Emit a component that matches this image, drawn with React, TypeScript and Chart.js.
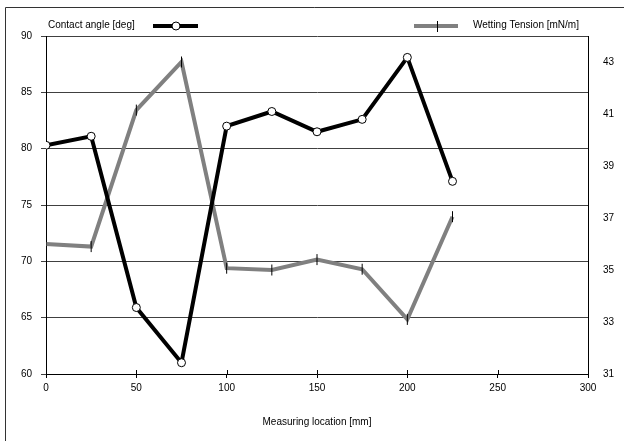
import React, { useEffect, useRef } from "react";
import { Chart, registerables } from "chart.js";

Chart.register(...registerables);

const locations = [0, 25, 50, 75, 100, 125, 150, 175, 200, 225];
const contactAngle = [80.3, 81.1, 65.9, 61.0, 82.0, 83.3, 81.5, 82.6, 88.1, 77.1];
const wettingTension = [36.0, 35.9, 41.15, 43.0, 35.07, 35.0, 35.4, 35.03, 33.1, 37.05];
const rightTicks = [31, 33, 35, 37, 39, 41, 43];
const contactLabel = "Contact angle [deg]";
const tensionLabel = "Wetting Tension [mN/m]";
const xTitle = "Measuring location [mm]";

const FONT = "10px 'Liberation Sans', Arial, sans-serif";

const decorPlugin = {
  id: "decor",
  beforeDraw(chart: any) {
    const ctx = chart.ctx;
    ctx.save();
    ctx.fillStyle = "#ffffff";
    ctx.fillRect(0, 0, chart.width, chart.height);
    ctx.strokeStyle = "#333333";
    ctx.lineWidth = 1;
    ctx.beginPath();
    ctx.moveTo(5.5, chart.height);
    ctx.lineTo(5.5, 7.5);
    ctx.lineTo(chart.width, 7.5);
    ctx.stroke();
    ctx.restore();
  },
  afterDraw(chart: any) {
    const ctx = chart.ctx;
    const xs = chart.scales.x;
    const bottom = chart.chartArea.bottom;
    ctx.save();
    // inner halves of the x tick marks
    ctx.strokeStyle = "#000";
    ctx.lineWidth = 1;
    ctx.beginPath();
    xs.ticks.forEach((t: any) => {
      const px = Math.round(xs.getPixelForValue(t.value)) + 0.5;
      ctx.moveTo(px, bottom - 4);
      ctx.lineTo(px, bottom);
    });
    ctx.stroke();

    // legend
    ctx.font = FONT;
    ctx.fillStyle = "#000";
    ctx.textBaseline = "middle";
    ctx.textAlign = "left";
    ctx.fillText(contactLabel, 48, 25);
    ctx.lineCap = "butt";
    ctx.strokeStyle = "#000";
    ctx.lineWidth = 4;
    ctx.beginPath();
    ctx.moveTo(153, 26);
    ctx.lineTo(198, 26);
    ctx.stroke();
    ctx.lineWidth = 1;
    ctx.fillStyle = "#fff";
    ctx.beginPath();
    ctx.arc(176, 26, 4, 0, Math.PI * 2);
    ctx.fill();
    ctx.stroke();

    ctx.strokeStyle = "#808080";
    ctx.lineWidth = 4;
    ctx.beginPath();
    ctx.moveTo(414, 26);
    ctx.lineTo(458, 26);
    ctx.stroke();
    ctx.strokeStyle = "#000";
    ctx.lineWidth = 1;
    ctx.beginPath();
    ctx.moveTo(437.5, 21);
    ctx.lineTo(437.5, 32);
    ctx.stroke();
    ctx.fillStyle = "#000";
    ctx.fillText(tensionLabel, 473, 25);
    ctx.restore();
  },
};

export default function App() {
  const ref = useRef<HTMLCanvasElement | null>(null);

  useEffect(() => {
    document.body.style.margin = "0";
    document.body.style.overflow = "hidden";
    Chart.defaults.font.family = "'Liberation Sans', Arial, sans-serif";
    Chart.defaults.font.size = 10;
    Chart.defaults.color = "#000";
    const chart = new Chart(ref.current as HTMLCanvasElement, {
      type: "line",
      data: {
        datasets: [
          {
            label: contactLabel,
            data: locations.map((x, i) => ({ x, y: contactAngle[i] })),
            yAxisID: "y",
            borderColor: "#000000",
            borderWidth: 4,
            pointRadius: 4,
            pointBackgroundColor: "#ffffff",
            pointBorderColor: "#000000",
            pointBorderWidth: 1,
            tension: 0,
          },
          {
            label: tensionLabel,
            data: locations.map((x, i) => ({ x, y: wettingTension[i] })),
            yAxisID: "y1",
            borderColor: "#808080",
            borderWidth: 4,
            pointStyle: "line",
            pointRotation: 90,
            pointRadius: 5.5,
            pointBorderColor: "#000000",
            pointBorderWidth: 1,
            tension: 0,
          },
        ],
      },
      options: {
        responsive: false,
        animation: false,
        layout: { padding: { top: 36, left: 0, right: 0, bottom: 0 } },
        plugins: { legend: { display: false }, tooltip: { enabled: false } },
        scales: {
          x: {
            type: "linear",
            min: 0,
            max: 300,
            ticks: { stepSize: 50, padding: 4, maxRotation: 0 },
            grid: { drawOnChartArea: false, tickLength: 4, color: "#000" },
            border: { color: "#000", width: 1 },
            title: { display: true, text: xTitle, padding: { top: 0, bottom: 13 } },
            afterFit(scale: any) {
              scale.height = 67;
            },
          },
          y: {
            position: "left",
            min: 60,
            max: 90,
            ticks: { stepSize: 5, padding: 9 },
            grid: { color: "#404040", tickLength: 5, lineWidth: 1 },
            border: { color: "#000", width: 1 },
            afterFit(scale: any) {
              scale.width = 46;
            },
          },
          y1: {
            position: "right",
            min: 31,
            max: 44,
            ticks: { padding: 7 },
            grid: { display: false },
            border: { display: true, color: "#000", width: 1 },
            afterBuildTicks(scale: any) {
              scale.ticks = rightTicks.map((v) => ({ value: v }));
            },
            afterFit(scale: any) {
              scale.width = 36;
            },
          },
        },
      },
      plugins: [decorPlugin],
    });
    return () => chart.destroy();
  }, []);

  return (
    <div style={{ width: 624, height: 441 }}>
      <canvas ref={ref} width={624} height={441} style={{ width: 624, height: 441, display: "block" }} />
    </div>
  );
}
